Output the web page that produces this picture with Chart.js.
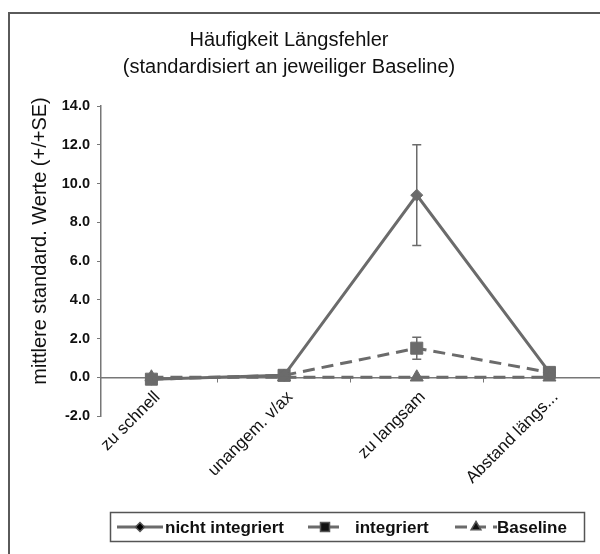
<!DOCTYPE html>
<html>
<head>
<meta charset="utf-8">
<style>
  html, body { margin: 0; padding: 0; background: #fff; overflow: hidden; width: 600px; height: 554px; }
  canvas { display: block; }
</style>
<script src="https://cdn.jsdelivr.net/npm/chart.js@4/dist/chart.umd.min.js"></script>
</head>
<body>
<canvas id="chart" width="612" height="554"></canvas>
<script>
// Categories of longitudinal errors
const categories = ['zu schnell', 'unangem. v/ax', 'zu langsam', 'Abstand längs...'];

// Mean standardised values and standard errors per group
const nichtIntegriert = [-0.1, 0.1, 9.4, 0.25];
const nichtIntegriertSE = [0.1, 0.1, 2.6, 0.1];
const integriert = [-0.1, 0.1, 1.5, 0.25];
const integriertSE = [0.1, 0.1, 0.57, 0.1];
const baseline = [0, 0, 0, 0];
const baselineSE = [0, 0, 0, 0];

// Axis ticks and texts
const yTicks = [-2, 0, 2, 4, 6, 8, 10, 12, 14];
const titleLines = ['Häufigkeit Längsfehler', '(standardisiert an jeweiliger Baseline)'];
const yTitle = 'mittlere standard. Werte (+/+SE)';
const seriesNames = ['nicht integriert', 'integriert', 'Baseline'];

const GREY = '#6b6b6b';
const INK = '#111111';
const FONT = '"Liberation Sans", Arial, sans-serif';

const toPoints = vals => vals.map((v, i) => ({ x: i, y: v }));

// White page with the left/top frame lines
const framePlugin = {
  id: 'frame',
  beforeDraw(chart) {
    const ctx = chart.ctx;
    ctx.save();
    ctx.fillStyle = '#fff';
    ctx.fillRect(0, 0, chart.width, chart.height);
    ctx.strokeStyle = '#5a5a5a';
    ctx.lineWidth = 2;
    ctx.beginPath();
    ctx.moveTo(9, chart.height);
    ctx.lineTo(9, 13);
    ctx.lineTo(chart.width, 13);
    ctx.stroke();
    ctx.restore();
  }
};

// Two-line heading and the rotated value-axis caption
const headingPlugin = {
  id: 'heading',
  afterDraw(chart) {
    const ctx = chart.ctx;
    ctx.save();
    ctx.fillStyle = INK;
    ctx.font = '20px ' + FONT;
    ctx.textAlign = 'center';
    ctx.textBaseline = 'alphabetic';
    ctx.fillText(titleLines[0], 289, 46);
    ctx.fillText(titleLines[1], 289, 73);
    ctx.translate(40, 241);
    ctx.rotate(-Math.PI / 2);
    ctx.textBaseline = 'middle';
    ctx.fillText(yTitle, 0, 0);
    ctx.restore();
  }
};

// Error bars (+/- SE) drawn through the chart's scales
const errorBarPlugin = {
  id: 'errorBars',
  afterDatasetsDraw(chart) {
    const ctx = chart.ctx;
    const xs = chart.scales.x, ys = chart.scales.y;
    ctx.save();
    ctx.strokeStyle = GREY;
    ctx.lineWidth = 1.5;
    chart.data.datasets.forEach(ds => {
      (ds.se || []).forEach((e, i) => {
        if (!e) return;
        const v = ds.data[i].y;
        const x = xs.getPixelForValue(i);
        const yTop = ys.getPixelForValue(v + e);
        const yBot = ys.getPixelForValue(v - e);
        ctx.beginPath();
        ctx.moveTo(x, yTop); ctx.lineTo(x, yBot);
        ctx.moveTo(x - 4.5, yTop); ctx.lineTo(x + 4.5, yTop);
        ctx.moveTo(x - 4.5, yBot); ctx.lineTo(x + 4.5, yBot);
        ctx.stroke();
      });
    });
    ctx.restore();
  }
};

// Boxed legend with line + marker samples
const boxLegendPlugin = {
  id: 'boxLegend',
  afterDraw(chart) {
    const ctx = chart.ctx;
    const box = { l: 110.5, t: 512.5, r: 584.5, b: 541.5 };
    const cy = (box.t + box.b) / 2;
    const items = [
      { x0: 117, x1: 163, tx: 165 },
      { x0: 308, x1: 342, tx: 355 },
      { x0: 455, x1: 497, tx: 497 }
    ];
    ctx.save();
    ctx.strokeStyle = '#555';
    ctx.lineWidth = 1.5;
    ctx.strokeRect(box.l, box.t, box.r - box.l, box.b - box.t);
    chart.data.datasets.forEach((ds, k) => {
      const it = items[k];
      ctx.save();
      ctx.strokeStyle = ds.borderColor;
      ctx.lineWidth = ds.borderWidth;
      ctx.setLineDash(ds.borderDash || []);
      ctx.beginPath();
      ctx.moveTo(it.x0, cy);
      ctx.lineTo(it.x1, cy);
      ctx.stroke();
      ctx.restore();
      Chart.helpers.drawPoint(ctx, {
        pointStyle: ds.pointStyle,
        radius: ds.pointRadius * 0.75,
        borderWidth: 1
      }, (it.x0 + it.x1) / 2, cy);
      ctx.fillStyle = INK;
      ctx.font = 'bold 17px ' + FONT;
      ctx.textAlign = 'left';
      ctx.textBaseline = 'middle';
      ctx.fillText(ds.label, it.tx, cy + 1);
    });
    ctx.restore();
  }
};

const lineStyle = {
  borderColor: GREY,
  backgroundColor: GREY,
  pointBackgroundColor: GREY,
  pointBorderColor: GREY,
  pointBorderWidth: 1,
  borderWidth: 3,
  tension: 0,
  fill: false
};

new Chart(document.getElementById('chart'), {
  type: 'line',
  data: {
    datasets: [
      Object.assign({}, lineStyle, {
        label: seriesNames[0], data: toPoints(nichtIntegriert), se: nichtIntegriertSE,
        pointStyle: 'rectRot', pointRadius: 6
      }),
      Object.assign({}, lineStyle, {
        label: seriesNames[1], data: toPoints(integriert), se: integriertSE,
        pointStyle: 'rect', pointRadius: 8.5, borderDash: [12, 7]
      }),
      Object.assign({}, lineStyle, {
        label: seriesNames[2], data: toPoints(baseline), se: baselineSE,
        pointStyle: 'triangle', pointRadius: 7.5, borderDash: [12, 7]
      })
    ]
  },
  options: {
    responsive: false,
    animation: false,
    layout: { padding: { top: 106, bottom: 138, left: 0, right: 0 } },
    plugins: {
      legend: { display: false },
      title: { display: false },
      tooltip: { enabled: false }
    },
    scales: {
      x: {
        type: 'linear',
        position: { y: 0 },
        min: -0.38,
        max: 3.4,
        afterBuildTicks: s => { s.ticks = [0, 0.5, 1, 1.5, 2, 2.5, 3].map(v => ({ value: v })); },
        ticks: {
          autoSkip: false,
          minRotation: 45,
          maxRotation: 45,
          padding: 6,
          labelOffset: 6,
          color: INK,
          font: { family: FONT, size: 17 },
          callback: v => (Number.isInteger(v) ? categories[v] : '')
        },
        grid: {
          drawOnChartArea: false,
          drawTicks: true,
          tickLength: 4,
          color: c => (c.tick && Number.isInteger(c.tick.value) ? 'rgba(0,0,0,0)' : '#777')
        },
        border: { color: '#777', width: 1.5 }
      },
      y: {
        min: -2,
        max: 14,
        afterBuildTicks: s => { s.ticks = yTicks.map(v => ({ value: v })); },
        afterFit: s => { s.width = 101; },
        ticks: {
          padding: 7,
          color: INK,
          font: { family: FONT, size: 14.5, weight: 'bold' },
          callback: v => Number(v).toFixed(1)
        },
        grid: { drawOnChartArea: false, drawTicks: true, tickLength: 4, color: '#777' },
        border: { color: '#777', width: 1.5 },
        title: { display: false }
      }
    }
  },
  plugins: [framePlugin, headingPlugin, errorBarPlugin, boxLegendPlugin]
});
</script>
</body>
</html>
